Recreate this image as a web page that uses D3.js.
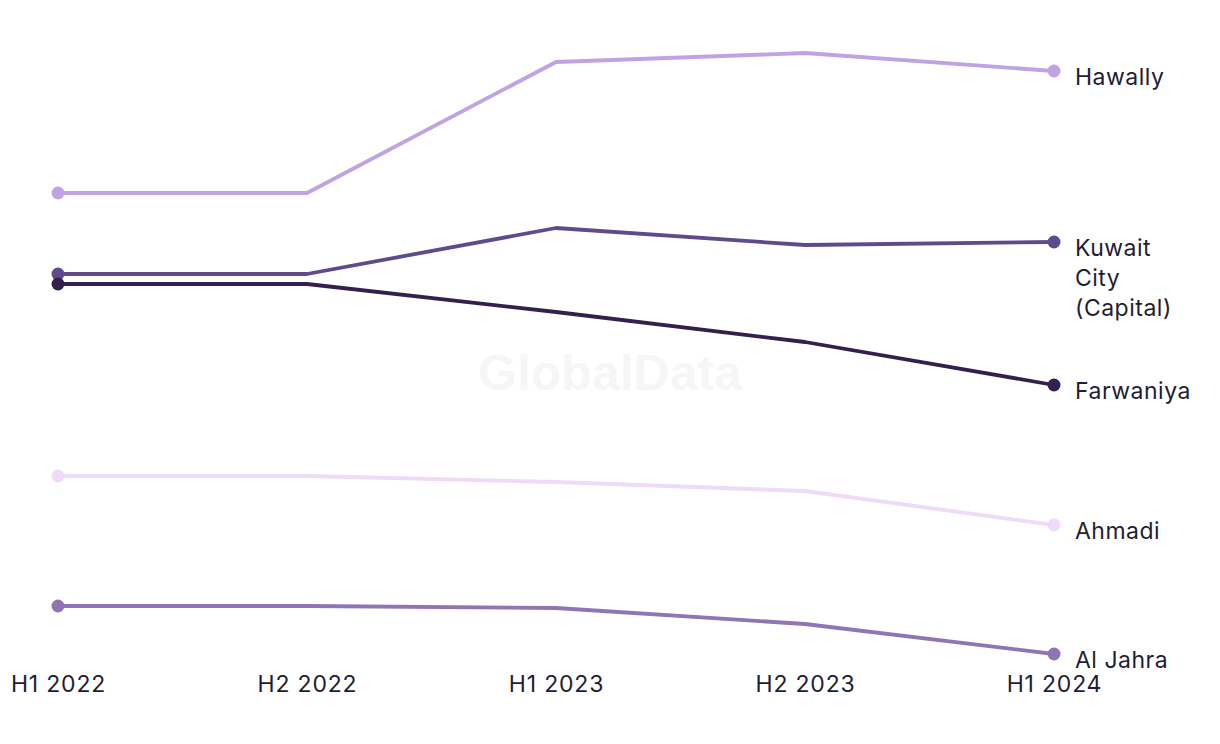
<!DOCTYPE html>
<html><head><meta charset="utf-8">
<script src="https://cdn.jsdelivr.net/npm/d3@7"></script>
<style>
html,body{margin:0;padding:0;background:#fff;}
svg{display:block;font-family:"Inter","Liberation Sans",Arial,sans-serif;}
</style></head>
<body><svg id="chart" width="1220" height="744"></svg>
<script>
const periods = ["H1 2022","H2 2022","H1 2023","H2 2023","H1 2024"];
const seriesNames = ["Hawally","Kuwait City (Capital)","Farwaniya","Ahmadi","Al Jahra"];
const hawally   = [50.7, 50.7, 63.8, 64.7, 62.9];
const kuwaitCity= [42.6, 42.6, 47.2, 45.5, 45.8];
const farwaniya = [41.6, 41.6, 38.8, 35.8, 31.5];
const ahmadi    = [22.4, 22.4, 21.8, 20.9, 17.5];
const alJahra   = [9.4, 9.4, 9.2, 7.6, 4.6];
const colors = ["#c0a3e3","#5f4b8b","#33204f","#efdaf9","#8f75b5"];
const labelLines = [["Hawally"],["Kuwait","City","(Capital)"],["Farwaniya"],["Ahmadi"],["Al Jahra"]];

const values = [hawally, kuwaitCity, farwaniya, ahmadi, alJahra];
const svg = d3.select("#chart");
const x = d3.scalePoint().domain(periods).range([58, 1054]);
const y = d3.scaleLinear().domain([0, 70]).range([700, 0]);

svg.append("text").attr("x", 610).attr("y", 390).attr("text-anchor","middle")
  .attr("font-size", 50).attr("font-weight", 700).attr("fill", "#f6f6f6")
  .attr("font-family","'Liberation Sans',Arial,sans-serif").text("GlobalData");

const xAxis = d3.axisBottom(x).tickSize(0).tickPadding(0);
const gx = svg.append("g").attr("transform","translate(0,676)").call(xAxis);
gx.select(".domain").remove();
gx.selectAll("text").attr("font-size", 23).attr("fill", "#1f1d33").attr("dy","0.71em")
  .attr("letter-spacing", 0.8)
  .attr("font-family","Inter,'Liberation Sans',Arial,sans-serif");

const line = d3.line().x((d,i)=>x(periods[i])).y(d=>y(d));
values.forEach((vals, k) => {
  const g = svg.append("g");
  g.append("path").datum(vals).attr("d", line).attr("fill","none")
    .attr("stroke", colors[k]).attr("stroke-width", 3.8).attr("stroke-linejoin","round");
  [0, vals.length-1].forEach(i => {
    g.append("circle").attr("cx", x(periods[i])).attr("cy", y(vals[i])).attr("r", 6.5).attr("fill", colors[k]);
  });
  const t = g.append("text").attr("x", 1075).attr("y", y(vals[vals.length-1]) + 14)
    .attr("font-size", 23).attr("letter-spacing", 0.5).attr("fill", "#1f1d33");
  labelLines[k].forEach((s, j) => {
    t.append("tspan").attr("x", 1075).attr("dy", j === 0 ? 0 : 30).text(s);
  });
});
</script></body></html>
